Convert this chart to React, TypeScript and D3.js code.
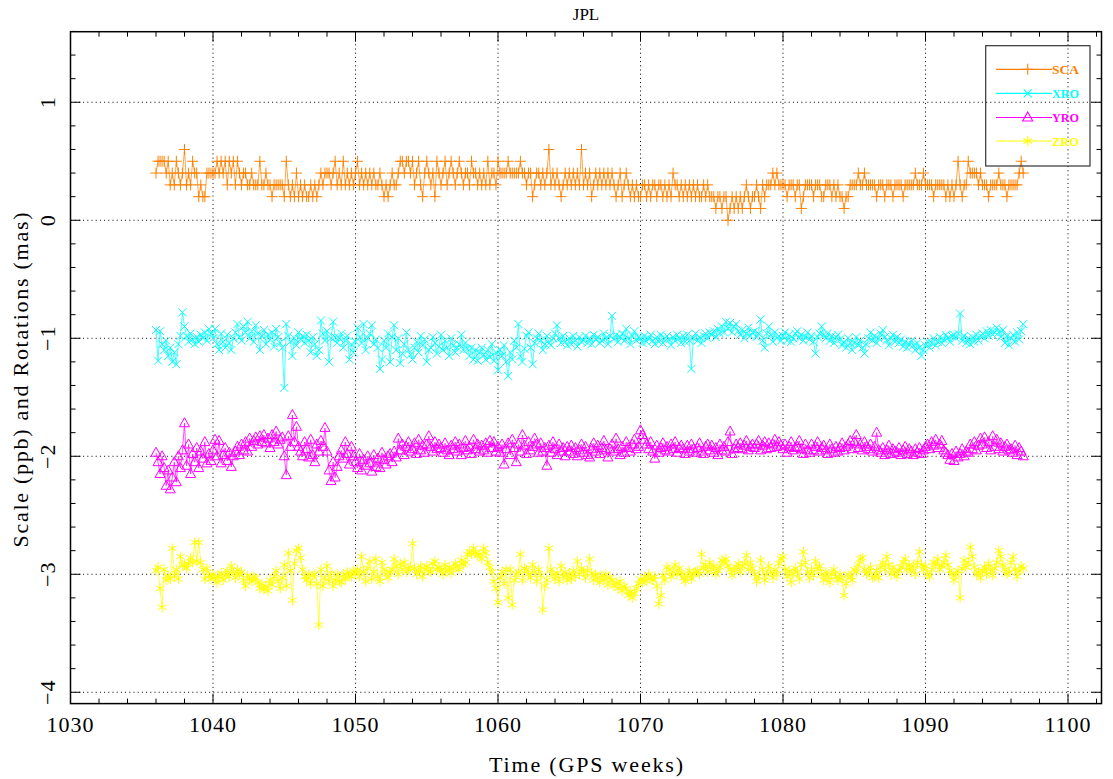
import React from 'react';
import * as d3 from 'd3';

const START_WEEK = 1036;
const DAYS_PER_WEEK = 7;
const TITLE = 'JPL';
const X_LABEL = 'Time (GPS weeks)';
const Y_LABEL = 'Scale (ppb) and Rotations (mas)';
const X_TICKS = [1030, 1040, 1050, 1060, 1070, 1080, 1090, 1100];
const Y_TICKS = [-4, -3, -2, -1, 0, 1];
const SERIES_NAMES = ['SCA', 'XRO', 'YRO', 'ZRO'];
const SERIES_COLORS = ['#ff8000', '#00ffff', '#ff00ff', '#ffff00'];
const SERIES_MARKERS = ['plus', 'cross', 'triangle', 'star'];

const SCA = [
.4,.5,.5,.5,.5,.4,.5,
.3,.4,.3,.5,.4,.3,.4,
.6,.3,.4,.3,.5,.4,.4,
.2,.3,.2,.2,.4,.4,.4,
.4,.4,.5,.4,.5,.4,.5,
.3,.5,.4,.5,.3,.5,.4,
.3,.4,.4,.3,.3,.4,.3,
.3,.3,.5,.3,.3,.4,.3,
.3,.2,.3,.3,.3,.3,.3,
.2,.5,.3,.2,.3,.2,.4,
.2,.3,.2,.3,.2,.2,.3,
.2,.3,.2,.3,.4,.3,.4,
.4,.4,.3,.4,.5,.3,.4,
.3,.5,.3,.4,.3,.4,.3,
.4,.5,.3,.4,.3,.4,.3,
.4,.3,.4,.3,.3,.4,.3,
.2,.3,.2,.3,.4,.3,.3,
.4,.5,.5,.4,.5,.5,.4,
.5,.3,.4,.5,.3,.2,.4,
.5,.4,.3,.4,.2,.5,.4,
.3,.4,.5,.3,.4,.5,.4,
.3,.4,.5,.4,.3,.4,.4,
.3,.5,.4,.4,.3,.4,.3,
.4,.3,.5,.3,.4,.4,.3,
.5,.4,.4,.4,.4,.5,.4,
.4,.4,.4,.4,.5,.4,.4,
.3,.4,.4,.2,.3,.4,.4,
.3,.4,.3,.4,.6,.3,.4,
.3,.4,.3,.2,.3,.4,.3,
.4,.3,.4,.3,.4,.3,.6,
.3,.4,.3,.4,.2,.3,.4,
.3,.4,.3,.4,.3,.4,.3,
.4,.3,.2,.3,.4,.2,.3,
.4,.3,.2,.3,.2,.3,.2,
.2,.3,.3,.2,.3,.2,.3,
.3,.2,.3,.3,.2,.3,.2,
.3,.2,.4,.3,.3,.2,.3,
.2,.3,.2,.3,.2,.3,.2,
.3,.2,.2,.3,.2,.3,.2,
.2,.2,.1,.2,.2,.1,.2,
.2,0,.1,.2,.1,.2,.1,
.2,.1,.2,.3,.2,.1,.2,
.2,.3,.2,.1,.3,.2,.3,
.3,.3,.4,.3,.4,.3,.3,
.3,.3,.2,.3,.3,.3,.2,
.3,.3,.1,.2,.3,.3,.3,
.3,.2,.3,.3,.3,.2,.2,
.3,.3,.3,.2,.3,.2,.3,
.2,.2,.1,.2,.2,.3,.3,
.3,.3,.4,.3,.3,.4,.3,
.3,.3,.3,.3,.2,.3,.3,
.3,.2,.3,.3,.3,.2,.3,
.3,.3,.3,.2,.3,.3,.3,
.3,.3,.4,.3,.3,.3,.4,
.3,.3,.3,.3,.2,.3,.3,
.3,.3,.3,.2,.3,.2,.3,
.2,.3,.5,.3,.2,.3,.3,
.5,.4,.4,.4,.4,.3,.4,
.3,.3,.3,.2,.3,.3,.3,
.3,.4,.3,.3,.3,.2,.3,
.3,.3,.3,.3,.4,.5,.4,
];

const XRO = [
-.93,-1.19,-.94,-1.05,-1.10,-1.02,-1.15,
-1.08,-1.20,-1.12,-1.22,-1.05,-.98,-.78,
-.90,-.98,-1.03,-.96,-1.01,-1.05,-.99,
-1.03,-.97,-1.00,-.95,-1.02,-.92,-.96,
-1.00,-.92,-1.05,-1.10,-.96,-1.03,-1.08,
-.97,-1.04,-1.10,-1.00,-.95,-.88,-.99,
-1.02,-.90,-.95,-.86,-1.00,-.94,-1.03,
-.89,-.96,-1.10,-.98,-.93,-1.05,-.97,
-1.01,-.95,-1.07,-.92,-.99,-1.04,-1.08,
-1.42,-.88,-.98,-1.03,-1.15,-1.00,-1.06,
-.95,-1.01,-.98,-1.04,-.97,-1.02,-1.12,
-.99,-1.05,-1.15,-1.10,-.85,-.96,-1.02,
-.94,-1.20,-1.00,-.86,-.99,-1.04,-1.00,
-.96,-1.08,-1.02,-.98,-1.18,-1.05,-1.12,
-1.03,-.91,-.99,-1.04,-.88,-1.10,-1.00,
-.96,-.89,-1.05,-1.01,-1.08,-1.26,-1.18,
-1.02,-1.08,-.96,-1.20,-.99,-.89,-1.10,
-1.00,-1.21,-1.13,-1.05,-.95,-1.10,-1.14,
-1.18,-1.08,-1.03,-1.12,-.98,-1.06,-1.01,
-1.20,-1.10,-1.08,-.99,-1.04,-1.13,-1.07,
-.97,-1.10,-1.02,-1.08,-1.15,-1.00,-1.06,
-1.12,-1.08,-1.05,-.97,-1.10,-1.04,-1.09,
-1.15,-1.08,-1.18,-1.10,-1.19,-1.12,-1.08,
-1.14,-1.18,-1.10,-1.16,-1.05,-1.19,-1.12,
-1.27,-1.10,-1.15,-1.06,-1.20,-1.32,-1.12,
-1.18,-1.02,-1.08,-.88,-1.15,-1.20,-1.09,
-.98,-.95,-1.08,-1.22,-1.04,-1.00,-.96,
-1.02,-1.10,-1.05,-.98,-1.04,-1.06,-1.00,
-.96,-.89,-1.00,-1.04,-.98,-1.03,-1.06,
-1.00,-1.05,-.98,-1.02,-1.07,-.99,-1.03,
-1.02,-.98,-1.04,-1.00,-1.05,-.97,-1.01,
-.99,-1.04,-1.02,-.96,-1.00,-1.05,-.98,
-.81,-1.01,-.97,-1.03,-.99,-.96,-1.02,
-.92,-1.00,-1.05,-.98,-.94,-1.02,-.99,
-1.00,-1.04,-.98,-1.03,-1.00,-.97,-1.02,
-1.05,-.99,-1.03,-.97,-1.04,-1.00,-.98,
-1.01,-1.06,-.99,-1.02,-.97,-1.00,-1.04,
-.98,-1.03,-.97,-1.02,-1.26,-1.00,-.96,
-1.02,-.99,-1.04,-.98,-.96,-1.00,-.95,
-.97,-.94,-.99,-.92,-.96,-.90,-.95,
-.86,-.92,-.87,-.95,-.90,-.88,-.94,
-.97,-.93,-1.00,-.96,-.91,-.98,-.95,
-.94,-.99,-.96,-.84,-1.02,-1.08,-.96,
-.90,-.97,-1.03,-.95,-1.00,-.98,-1.02,
-.98,-.95,-1.02,-.97,-1.03,-1.00,-.96,
-.94,-1.00,-.97,-1.02,-.99,-.95,-1.01,
-.98,-1.03,-1.13,-.99,-.96,-.90,-.97,
-1.00,-.96,-1.02,-.98,-1.04,-.99,-.97,
-1.01,-1.06,-1.03,-1.08,-1.00,-1.04,-1.10,
-1.04,-.99,-1.06,-1.02,-1.08,-1.13,-1.05,
-1.00,-.95,-1.02,-.98,-1.04,-1.00,-.96,
-.93,-.99,-1.02,-1.06,-1.00,-.97,-1.03,
-.99,-1.04,-1.01,-1.07,-1.03,-1.08,-1.05,
-1.02,-1.06,-1.10,-1.04,-1.08,-1.15,-1.10,
-1.06,-1.03,-1.08,-1.04,-1.00,-1.06,-1.03,
-.99,-1.04,-1.01,-.97,-1.00,-1.03,-.98,
-.97,-1.00,-.96,-.79,-1.02,-.98,-1.04,
-1.00,-1.05,-.99,-1.03,-.97,-1.02,-.98,
-.96,-1.00,-.94,-.98,-.93,-.97,-.95,
-.91,-.95,-.99,-.93,-1.04,-.98,-1.06,
-1.00,-.97,-1.03,-.95,-1.01,-.94,-.88,
];

const YRO = [
-1.97,-2.05,-2.15,-2.00,-2.10,-2.25,-2.12,
-2.28,-2.18,-2.05,-2.22,-2.00,-2.10,-1.95,
-1.72,-2.08,-1.90,-2.15,-1.98,-2.05,-1.93,
-2.10,-1.96,-2.02,-1.88,-2.06,-1.98,-2.04,
-1.95,-1.86,-2.00,-1.87,-2.06,-1.99,-1.93,
-2.04,-1.97,-2.09,-2.00,-1.96,-1.92,-1.99,
-1.90,-1.95,-1.88,-1.96,-1.85,-1.92,-1.87,
-1.84,-1.90,-1.83,-1.88,-1.82,-1.89,-1.85,
-1.93,-1.82,-1.88,-1.79,-1.90,-1.86,-1.84,
-2.00,-2.16,-1.83,-1.92,-1.65,-1.88,-1.75,
-1.92,-1.96,-2.00,-1.88,-1.94,-2.01,-1.86,
-1.99,-2.05,-1.90,-1.96,-1.87,-1.92,-1.76,
-1.96,-2.12,-2.21,-2.05,-2.18,-2.09,-2.00,
-1.95,-2.02,-1.88,-1.98,-2.07,-1.92,-2.00,
-2.05,-2.10,-1.98,-2.12,-2.03,-2.08,-2.00,
-2.06,-2.13,-1.99,-2.09,-2.02,-2.10,-1.97,
-2.03,-2.07,-2.00,-1.98,-2.05,-1.96,-2.01,
-1.85,-1.95,-1.90,-1.99,-1.92,-1.88,-1.96,
-1.94,-1.89,-1.98,-1.86,-1.95,-1.91,-1.97,
-1.90,-1.83,-1.92,-1.96,-1.88,-1.94,-1.90,
-1.93,-1.97,-1.89,-1.95,-1.99,-1.91,-1.94,
-1.88,-1.96,-1.90,-1.99,-1.93,-1.87,-1.95,
-1.92,-1.98,-1.86,-1.94,-1.90,-1.96,-1.91,
-1.95,-1.89,-1.97,-1.87,-1.93,-1.88,-1.96,
-1.92,-1.97,-1.90,-2.07,-1.94,-1.89,-1.99,
-1.86,-1.93,-2.05,-1.90,-1.96,-1.82,-1.91,
-1.98,-1.88,-1.95,-1.92,-1.85,-1.90,-1.97,
-1.89,-1.96,-1.93,-2.08,-1.91,-1.97,-1.88,
-1.94,-1.99,-1.90,-1.96,-1.93,-2.00,-1.92,
-1.96,-1.91,-1.98,-1.93,-2.00,-1.95,-1.90,
-1.97,-1.92,-1.99,-2.01,-1.94,-1.89,-1.96,
-1.91,-1.98,-1.93,-1.87,-1.95,-2.01,-1.94,
-1.90,-1.96,-1.85,-1.94,-1.99,-1.92,-1.97,
-1.88,-1.93,-1.96,-1.90,-1.86,-1.94,-1.92,
-1.78,-1.82,-1.86,-1.90,-1.94,-1.88,-1.96,
-2.02,-1.91,-1.97,-1.93,-1.89,-1.95,-1.92,
-1.96,-1.90,-1.94,-1.88,-1.97,-1.93,-1.91,
-1.94,-1.98,-1.91,-1.96,-1.90,-1.94,-1.97,
-1.93,-1.89,-1.96,-1.98,-1.92,-1.90,-1.95,
-1.91,-1.97,-1.93,-1.99,-1.90,-1.95,-1.92,
-1.96,-1.88,-1.79,-1.98,-1.94,-1.90,-1.93,
-1.89,-1.94,-1.91,-1.87,-1.95,-1.92,-1.90,
-1.93,-1.90,-1.87,-1.95,-1.91,-1.88,-1.94,
-1.89,-1.93,-1.90,-1.86,-1.92,-1.88,-1.91,
-1.94,-1.90,-1.97,-1.92,-1.88,-1.95,-1.93,
-1.92,-1.87,-1.94,-1.98,-1.90,-1.95,-1.97,
-1.90,-1.95,-1.92,-1.88,-1.96,-1.93,-1.91,
-1.95,-1.98,-1.90,-1.94,-1.97,-1.92,-1.96,
-1.93,-1.89,-1.95,-1.92,-1.90,-1.87,-1.94,
-1.88,-1.82,-1.93,-1.90,-1.95,-1.88,-1.92,
-1.94,-1.90,-1.96,-1.92,-1.80,-1.95,-1.97,
-1.93,-1.99,-1.95,-1.91,-1.98,-1.94,-1.96,
-1.97,-1.93,-1.99,-1.95,-1.92,-1.98,-1.94,
-1.96,-1.99,-1.94,-1.97,-1.93,-1.98,-1.95,
-1.92,-1.90,-1.94,-1.88,-1.91,-1.86,-1.93,
-1.90,-1.87,-1.95,-1.97,-1.99,-2.03,-1.98,
-2.04,-1.96,-2.01,-1.98,-1.94,-2.00,-1.96,
-1.97,-1.90,-1.94,-1.88,-1.95,-1.91,-1.85,
-1.90,-1.84,-1.93,-1.88,-1.95,-1.83,-1.92,
-1.86,-1.94,-1.89,-1.96,-1.92,-1.90,-1.95,
-1.94,-1.97,-1.91,-1.99,-1.93,-1.96,-2.00,
];

const ZRO = [
-2.97,-2.94,-3.12,-3.28,-2.96,-3.05,-3.01,
-3.04,-2.78,-3.01,-2.96,-3.04,-2.85,-2.92,
-2.92,-2.95,-2.91,-2.86,-2.90,-2.73,-2.89,
-2.73,-2.90,-2.96,-3.04,-2.95,-3.01,-3.04,
-3.00,-3.03,-3.07,-3.02,-2.99,-3.05,-3.01,
-2.97,-3.02,-2.93,-2.98,-3.03,-2.96,-3.00,
-2.98,-3.05,-3.10,-3.01,-3.04,-3.06,-3.02,
-3.03,-3.07,-3.12,-3.08,-3.13,-3.10,-3.14,
-3.05,-3.09,-3.02,-2.97,-3.06,-3.12,-3.03,
-2.92,-3.10,-2.82,-2.97,-3.22,-2.91,-2.80,
-2.78,-2.86,-2.96,-3.02,-3.05,-3.00,-3.08,
-3.01,-3.00,-3.08,-3.43,-2.96,-3.10,-3.03,
-2.93,-3.06,-2.99,-3.10,-3.05,-3.00,-3.06,
-3.07,-3.00,-3.04,-2.98,-3.01,-3.02,-2.97,
-2.99,-2.96,-3.02,-2.85,-2.98,-3.06,-2.95,
-2.89,-3.04,-2.98,-2.87,-3.02,-3.06,-2.90,
-2.96,-3.00,-3.03,-2.98,-2.96,-2.87,-2.93,
-3.00,-2.91,-2.96,-2.90,-2.98,-2.95,-2.94,
-2.74,-2.95,-3.00,-2.97,-2.93,-3.02,-2.96,
-2.93,-2.97,-2.98,-2.91,-2.89,-2.96,-2.94,
-2.96,-3.00,-2.92,-2.97,-2.94,-2.99,-2.95,
-2.91,-2.93,-2.96,-2.88,-2.92,-2.90,-2.83,
-2.81,-2.83,-2.78,-2.82,-2.84,-2.83,-2.87,
-2.78,-2.82,-2.90,-2.94,-2.98,-3.06,-3.12,
-3.24,-3.03,-2.98,-3.08,-2.96,-3.20,-2.96,
-3.26,-3.05,-3.00,-2.98,-2.83,-3.05,-2.95,
-2.96,-3.00,-3.03,-2.92,-2.98,-3.06,-2.96,
-3.01,-3.30,-3.10,-3.05,-2.78,-2.96,-3.00,
-3.04,-2.99,-3.06,-2.93,-3.02,-2.98,-3.05,
-3.00,-3.04,-2.97,-3.02,-2.89,-3.00,-2.95,
-2.98,-3.03,-2.97,-2.87,-2.99,-3.05,-3.00,
-3.03,-3.07,-3.01,-3.05,-3.00,-3.09,-3.03,
-3.05,-3.10,-3.07,-3.12,-3.06,-3.14,-3.10,
-3.12,-3.18,-3.15,-3.20,-3.16,-3.12,-3.08,
-3.04,-3.07,-3.02,-3.06,-3.00,-3.03,-3.05,
-3.02,-3.10,-3.25,-3.18,-3.01,-3.05,-2.94,
-2.96,-3.02,-2.98,-2.92,-3.00,-2.95,-2.99,
-3.03,-3.06,-3.01,-2.97,-3.04,-3.00,-2.98,
-2.97,-3.00,-2.83,-2.95,-2.92,-2.98,-2.90,
-2.96,-2.93,-3.00,-2.97,-2.94,-2.88,-2.90,
-2.87,-2.93,-2.96,-3.01,-2.97,-2.94,-2.91,
-2.98,-2.93,-2.91,-2.84,-2.96,-2.90,-2.95,
-3.00,-3.06,-3.02,-2.88,-2.96,-3.05,-3.00,
-2.93,-2.98,-3.03,-2.96,-3.00,-2.91,-2.87,
-2.85,-2.96,-3.02,-2.97,-3.07,-3.00,-2.95,
-2.98,-3.04,-2.92,-2.81,-2.90,-2.98,-3.03,
-2.96,-3.01,-2.89,-2.96,-2.93,-3.00,-3.05,
-2.98,-3.02,-3.07,-3.00,-2.96,-3.02,-3.05,
-3.00,-3.04,-3.18,-3.08,-3.00,-3.02,-3.05,
-2.96,-2.98,-2.92,-2.87,-2.86,-2.96,-3.00,
-2.98,-2.94,-3.03,-3.02,-2.97,-3.03,-2.94,
-2.90,-2.96,-2.85,-2.92,-3.00,-2.94,-2.98,
-3.02,-2.97,-2.94,-2.90,-2.87,-2.96,-2.92,
-2.97,-2.93,-3.00,-2.90,-2.81,-2.92,-2.96,
-2.93,-3.00,-3.02,-2.96,-2.90,-2.92,-2.87,
-2.96,-2.93,-2.90,-2.84,-2.92,-2.97,-3.00,
-3.05,-3.00,-2.97,-3.20,-2.95,-2.88,-2.94,
-2.90,-2.77,-2.85,-2.94,-3.00,-2.98,-3.03,
-2.97,-2.94,-3.00,-2.91,-2.96,-3.01,-2.95,
-2.90,-2.80,-2.85,-2.92,-2.96,-3.00,-2.98,
-2.90,-2.85,-2.96,-3.02,-2.97,-2.93,-2.95,
];

const SERIES_VALUES = [SCA, XRO, YRO, ZRO];

function markerPath(kind: string, cx: number, cy: number): string {
  if (kind === 'plus') {
    return `M${cx - 5.5},${cy}H${cx + 5.5}M${cx},${cy - 5.5}V${cy + 5.5}`;
  }
  if (kind === 'cross') {
    const r = 4;
    return `M${cx - r},${cy - r}L${cx + r},${cy + r}M${cx - r},${cy + r}L${cx + r},${cy - r}`;
  }
  if (kind === 'triangle') {
    return `M${cx},${cy - 5.5}L${cx + 5},${cy + 3.5}L${cx - 5},${cy + 3.5}Z`;
  }
  const r = 5;
  const dx = 4.3;
  const dy = 2.5;
  return `M${cx},${cy - r}V${cy + r}M${cx - dx},${cy - dy}L${cx + dx},${cy + dy}M${cx - dx},${cy + dy}L${cx + dx},${cy - dy}`;
}

export default function App() {
  const W = 1113;
  const H = 779;
  const L = 70.5;
  const R = 1101.5;
  const T = 31.7;
  const B = 703.6;

  const x = d3.scaleLinear().domain([1030, 1102.35]).range([L, R]);
  const y = d3.scaleLinear().domain([-4.096, 1.598]).range([B, T]);

  const xMinor = d3.range(1030, 1103, 2).filter((v) => !X_TICKS.includes(v));
  const yMinor = d3.range(-20, 9, 1).map((v) => v / 5).filter((v) => !Y_TICKS.includes(v));

  const serif = 'Liberation Serif, DejaVu Serif, serif';
  const legendY = [69.3, 93.3, 117.5, 141];

  const series = SERIES_VALUES.map((vals, si) => {
    const pts: [number, number][] = vals.map((v, i) => [START_WEEK + i / DAYS_PER_WEEK, v]);
    const line = d3.line<[number, number]>().x((d) => x(d[0])).y((d) => y(d[1]))(pts) || '';
    const markers = pts.map((d) => markerPath(SERIES_MARKERS[si], x(d[0]), y(d[1]))).join('');
    return { line, markers, color: SERIES_COLORS[si] };
  });

  return (
    <svg width={W} height={H} style={{ position: 'absolute', left: 0, top: 0, background: '#fff' }}>
      <rect x={0} y={0} width={W} height={H} fill="#fff" />
      <g stroke="#000" strokeWidth={1} strokeDasharray="1,3.2">
        {X_TICKS.filter((v) => v > 1030).map((v) => (
          <line key={'gx' + v} x1={x(v)} x2={x(v)} y1={T} y2={B} />
        ))}
        {Y_TICKS.map((v) => (
          <line key={'gy' + v} x1={L} x2={R} y1={y(v)} y2={y(v)} />
        ))}
      </g>
      {series.map((s, i) => (
        <g key={'s' + i}>
          <path d={s.line} fill="none" stroke={s.color} strokeWidth={1} strokeOpacity={0.7} />
          <path d={s.markers} fill="none" stroke={s.color} strokeWidth={1} />
        </g>
      ))}
      <g stroke="#000" strokeWidth={1}>
        {X_TICKS.map((v) => (
          <g key={'xt' + v}>
            <line x1={x(v)} x2={x(v)} y1={B} y2={B - 10} />
            <line x1={x(v)} x2={x(v)} y1={T} y2={T + 10} />
          </g>
        ))}
        {xMinor.map((v) => (
          <g key={'xm' + v}>
            <line x1={x(v)} x2={x(v)} y1={B} y2={B - 5} />
            <line x1={x(v)} x2={x(v)} y1={T} y2={T + 5} />
          </g>
        ))}
        {Y_TICKS.map((v) => (
          <g key={'yt' + v}>
            <line x1={L} x2={L + 10} y1={y(v)} y2={y(v)} />
            <line x1={R} x2={R - 10} y1={y(v)} y2={y(v)} />
          </g>
        ))}
        {yMinor.map((v) => (
          <g key={'ym' + v}>
            <line x1={L} x2={L + 5} y1={y(v)} y2={y(v)} />
            <line x1={R} x2={R - 5} y1={y(v)} y2={y(v)} />
          </g>
        ))}
      </g>
      <rect x={L} y={T} width={R - L} height={B - T} fill="none" stroke="#000" strokeWidth={1.5} />
      <g fontFamily={serif} fontSize={22} fill="#000" textAnchor="middle">
        {X_TICKS.map((v) => (
          <text key={'xl' + v} x={x(v)} y={732} letterSpacing={1}>{v}</text>
        ))}
      </g>
      <g fontFamily={serif} fontSize={22} fill="#000" textAnchor="middle">
        {Y_TICKS.map((v) => (
          <text key={'yl' + v} transform={`translate(54.5,${y(v)}) rotate(-90)`} letterSpacing={1}>
            {v < 0 ? '\u2212' + Math.abs(v) : String(v)}
          </text>
        ))}
      </g>
      <text x={(L + R) / 2} y={772} fontFamily={serif} fontSize={22} textAnchor="middle" textLength={194} lengthAdjust="spacing">
        {X_LABEL}
      </text>
      <text
        transform={`translate(27.5,380) rotate(-90)`}
        fontFamily={serif}
        fontSize={22}
        textAnchor="middle"
        textLength={335}
        lengthAdjust="spacing"
      >
        {Y_LABEL}
      </text>
      <text x={(L + R) / 2} y={20} fontFamily={serif} fontSize={17} textAnchor="middle">
        {TITLE}
      </text>
      <rect x={985.7} y={45.7} width={104.3} height={120.3} fill="none" stroke="#333" strokeWidth={1.2} />
      {SERIES_NAMES.map((name, i) => (
        <g key={'lg' + name}>
          <line x1={996} x2={1052} y1={legendY[i]} y2={legendY[i]} stroke={SERIES_COLORS[i]} strokeWidth={1.2} />
          <path d={markerPath(SERIES_MARKERS[i], 1027.7, legendY[i])} fill="none" stroke={SERIES_COLORS[i]} strokeWidth={1.1} />
          <text x={1052} y={legendY[i] + 4.5} fontFamily={serif} fontSize={13} fontWeight="bold" fill={SERIES_COLORS[i]} textLength={27} lengthAdjust="spacingAndGlyphs">
            {name}
          </text>
        </g>
      ))}
    </svg>
  );
}
